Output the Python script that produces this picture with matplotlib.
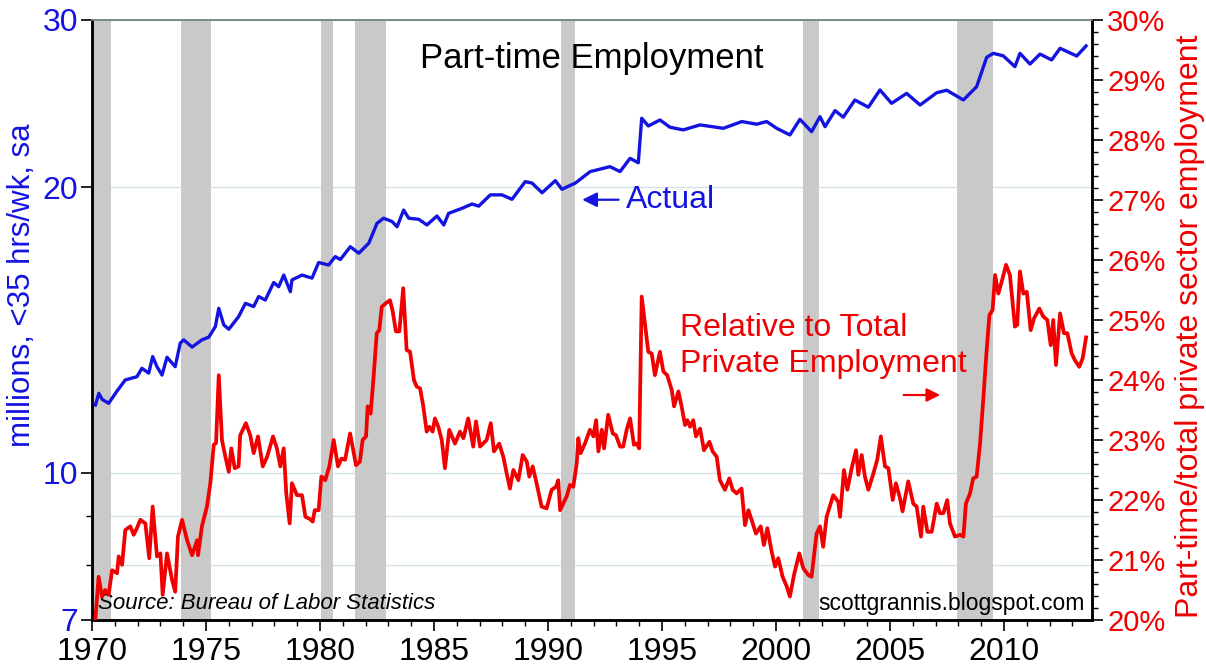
import matplotlib
matplotlib.use('Agg')
import matplotlib.pyplot as plt
from matplotlib.ticker import FixedLocator, FixedFormatter, NullFormatter, MultipleLocator

plt.rcParams['font.family'] = ['Liberation Sans', 'DejaVu Sans']

# recessions (start, end) in decimal years
recessions = [(1969.95, 1970.85), (1973.9, 1975.2), (1980.05, 1980.55),
              (1981.55, 1982.9), (1990.55, 1991.2), (2001.2, 2001.9),
              (2007.95, 2009.5)]

# part-time workers, millions (left, log scale)
blue_t = [1970.15, 1970.30, 1970.45, 1970.73, 1971.10, 1971.46, 1971.97, 1972.19, 1972.49,
          1972.66, 1972.85, 1973.07, 1973.29, 1973.65, 1973.87, 1974.02, 1974.39, 1974.82,
          1975.12, 1975.41, 1975.56, 1975.78, 1976.00, 1976.43, 1976.73, 1977.09, 1977.31,
          1977.60, 1977.97, 1978.19, 1978.41, 1978.70, 1978.77, 1979.21, 1979.65, 1979.94,
          1980.38, 1980.67, 1980.89, 1981.33, 1981.70, 1982.14, 1982.50, 1982.79, 1983.16,
          1983.38, 1983.67, 1983.89, 1984.33, 1984.69, 1985.13, 1985.43, 1985.64, 1986.23,
          1986.67, 1986.96, 1987.47, 1987.98, 1988.42, 1989.00, 1989.30, 1989.74, 1990.32,
          1990.61, 1991.20, 1991.85, 1992.72, 1993.16, 1993.60, 1993.96, 1994.11, 1994.40,
          1994.91, 1995.35, 1995.93, 1996.67, 1997.69, 1998.50, 1999.15, 1999.59, 2000.03,
          2000.61, 2001.05, 2001.56, 2001.93, 2002.15, 2002.59, 2002.95, 2003.46, 2004.05,
          2004.56, 2005.07, 2005.73, 2006.32, 2007.05, 2007.49, 2008.22, 2008.80, 2009.24,
          2009.53, 2009.97, 2010.48, 2010.70, 2011.14, 2011.58, 2012.09, 2012.46, 2013.19,
          2013.60]
blue_v = [11.79, 12.13, 11.95, 11.84, 12.20, 12.53, 12.63, 12.89, 12.74,
          13.26, 12.94, 12.68, 13.24, 12.94, 13.70, 13.81, 13.57, 13.81,
          13.90, 14.26, 14.91, 14.32, 14.17, 14.61, 15.09, 14.97, 15.34,
          15.21, 15.87, 15.71, 16.16, 15.52, 15.97, 16.16, 16.04, 16.66,
          16.56, 16.90, 16.78, 17.31, 17.04, 17.46, 18.32, 18.55, 18.40,
          18.17, 18.92, 18.55, 18.50, 18.25, 18.65, 18.25, 18.77, 19.00,
          19.20, 19.10, 19.63, 19.63, 19.42, 20.27, 20.20, 19.73, 20.32,
          19.90, 20.20, 20.77, 21.02, 20.77, 21.45, 21.22, 23.64, 23.20,
          23.54, 23.13, 22.98, 23.26, 23.07, 23.45, 23.30, 23.45, 23.07,
          22.70, 23.58, 22.88, 23.73, 23.16, 24.08, 23.70, 24.71, 24.28,
          25.32, 24.51, 25.11, 24.41, 25.15, 25.30, 24.71, 25.52, 27.40,
          27.67, 27.50, 26.79, 27.67, 26.96, 27.62, 27.23, 28.01, 27.49,
          28.17]

# part-time share of total private employment, % (right axis)
red_t = [1970.15, 1970.29, 1970.44, 1970.58, 1970.73, 1970.88, 1971.10, 1971.17, 1971.32,
         1971.46, 1971.68, 1971.83, 1971.97, 1972.12, 1972.34, 1972.51, 1972.66, 1972.85,
         1973.00, 1973.10, 1973.29, 1973.51, 1973.65, 1973.77, 1973.95, 1974.17, 1974.39,
         1974.61, 1974.65, 1974.82, 1975.04, 1975.19, 1975.34, 1975.44, 1975.56, 1975.70,
         1975.85, 1976.00, 1976.11, 1976.26, 1976.43, 1976.50, 1976.75, 1976.94, 1977.09,
         1977.28, 1977.49, 1977.68, 1977.94, 1978.11, 1978.26, 1978.41, 1978.52, 1978.67,
         1978.77, 1978.99, 1979.21, 1979.36, 1979.57, 1979.68, 1979.77, 1979.94, 1980.06,
         1980.23, 1980.41, 1980.60, 1980.79, 1980.94, 1981.10, 1981.32, 1981.58, 1981.75,
         1981.87, 1982.02, 1982.09, 1982.22, 1982.34, 1982.49, 1982.60, 1982.71, 1982.89,
         1983.07, 1983.19, 1983.33, 1983.48, 1983.65, 1983.80, 1983.95, 1984.12, 1984.24,
         1984.39, 1984.53, 1984.68, 1984.80, 1984.94, 1985.04, 1985.19, 1985.34, 1985.48,
         1985.67, 1985.92, 1986.14, 1986.29, 1986.50, 1986.72, 1986.84, 1987.02, 1987.31,
         1987.49, 1987.63, 1987.86, 1988.04, 1988.19, 1988.33, 1988.48, 1988.70, 1988.89,
         1989.07, 1989.18, 1989.33, 1989.50, 1989.72, 1989.94, 1990.16, 1990.35, 1990.45,
         1990.53, 1990.82, 1990.96, 1991.11, 1991.26, 1991.33, 1991.43, 1991.62, 1991.84,
         1991.99, 1992.11, 1992.21, 1992.36, 1992.46, 1992.64, 1992.84, 1992.98, 1993.16,
         1993.30, 1993.45, 1993.60, 1993.77, 1993.89, 1994.00, 1994.11, 1994.25, 1994.40,
         1994.55, 1994.69, 1994.91, 1995.06, 1995.23, 1995.43, 1995.53, 1995.72, 1995.86,
         1996.01, 1996.11, 1996.23, 1996.37, 1996.49, 1996.67, 1996.84, 1997.08, 1997.22,
         1997.40, 1997.54, 1997.76, 1997.95, 1998.10, 1998.27, 1998.49, 1998.64, 1998.79,
         1998.93, 1999.12, 1999.33, 1999.47, 1999.62, 1999.81, 1999.96, 2000.10, 2000.29,
         2000.47, 2000.61, 2000.79, 2001.02, 2001.20, 2001.42, 2001.56, 2001.78, 2001.93,
         2002.07, 2002.22, 2002.51, 2002.73, 2002.81, 2002.98, 2003.13, 2003.32, 2003.51,
         2003.61, 2003.76, 2003.90, 2004.05, 2004.27, 2004.44, 2004.60, 2004.78, 2004.93,
         2005.12, 2005.26, 2005.44, 2005.55, 2005.80, 2006.02, 2006.17, 2006.36, 2006.46,
         2006.64, 2006.83, 2007.05, 2007.19, 2007.34, 2007.51, 2007.63, 2007.85, 2008.07,
         2008.22, 2008.33, 2008.51, 2008.65, 2008.80, 2008.95, 2009.09, 2009.24, 2009.36,
         2009.50, 2009.61, 2009.75, 2009.90, 2010.09, 2010.26, 2010.48, 2010.58, 2010.70,
         2010.85, 2011.00, 2011.17, 2011.32, 2011.55, 2011.72, 2011.90, 2012.05, 2012.16,
         2012.28, 2012.46, 2012.63, 2012.78, 2012.97, 2013.11, 2013.30, 2013.45, 2013.60]
red_v = [20.03, 20.72, 20.39, 20.50, 20.42, 20.83, 20.78, 21.06, 20.92,
         21.50, 21.56, 21.42, 21.53, 21.67, 21.61, 21.03, 21.89, 21.06,
         21.11, 20.42, 21.11, 20.67, 20.47, 21.39, 21.67, 21.33, 21.08,
         21.33, 21.08, 21.56, 21.89, 22.28, 22.92, 22.95, 24.08, 23.00,
         22.72, 22.47, 22.86, 22.53, 22.56, 23.08, 23.28, 23.08, 22.78,
         23.06, 22.56, 22.72, 23.06, 22.86, 22.56, 22.86, 22.11, 21.61,
         22.28, 22.08, 22.08, 21.72, 21.68, 21.64, 21.83, 21.83, 22.39,
         22.33, 22.56, 23.00, 22.56, 22.69, 22.67, 23.11, 22.58, 22.64,
         23.00, 23.06, 23.56, 23.44, 24.00, 24.78, 24.83, 25.22, 25.28,
         25.33, 25.14, 24.81, 24.81, 25.53, 24.50, 24.47, 24.00, 23.89,
         23.86, 23.56, 23.14, 23.22, 23.14, 23.36, 23.22, 23.00, 22.53,
         23.17, 22.94, 23.14, 23.03, 23.36, 22.89, 23.31, 22.89, 23.00,
         23.28, 22.81, 22.94, 22.72, 22.44, 22.19, 22.50, 22.33, 22.75,
         22.64, 22.39, 22.56, 22.28, 21.89, 21.86, 22.17, 22.22, 22.33,
         21.83, 22.06, 22.25, 22.22, 22.61, 23.03, 22.78, 22.94, 23.17,
         23.06, 23.33, 22.81, 23.17, 22.86, 23.42, 23.11, 23.08, 22.89,
         22.89, 23.17, 23.36, 22.92, 22.94, 22.86, 25.39, 24.94, 24.47,
         24.44, 24.08, 24.47, 24.14, 24.08, 23.83, 23.56, 23.81, 23.56,
         23.25, 23.33, 23.22, 23.33, 23.06, 23.19, 22.83, 22.97, 22.81,
         22.72, 22.33, 22.17, 22.36, 22.17, 22.11, 22.19, 21.58, 21.83,
         21.67, 21.44, 21.56, 21.25, 21.53, 21.14, 20.89, 21.03, 20.72,
         20.56, 20.39, 20.75, 21.11, 20.86, 20.75, 20.72, 21.44, 21.56,
         21.22, 21.72, 22.08, 21.97, 21.72, 22.50, 22.17, 22.53, 22.83,
         22.42, 22.75, 22.39, 22.17, 22.44, 22.67, 23.06, 22.56, 22.53,
         22.00, 22.28, 22.03, 21.81, 22.31, 21.94, 21.89, 21.39, 21.89,
         21.47, 21.47, 21.94, 21.78, 21.78, 22.00, 21.61, 21.39, 21.42,
         21.39, 21.94, 22.11, 22.36, 22.39, 22.94, 23.67, 24.50, 25.08,
         25.17, 25.75, 25.44, 25.64, 25.92, 25.75, 24.89, 24.92, 25.81,
         25.44, 25.47, 24.83, 25.03, 25.19, 25.06, 25.00, 24.58, 25.00,
         24.25, 25.11, 24.78, 24.78, 24.44, 24.33, 24.22, 24.36, 24.71]

blue = '#1414e0'
red = '#f00000'

fig = plt.figure(figsize=(12.06, 6.72), dpi=100)
ax = fig.add_axes([92 / 1206, 52 / 672, 1000 / 1206, 600 / 672])
ax2 = ax.twinx()

for a, b in recessions:
    ax.axvspan(a, b, color='#c9c9c9', lw=0, zorder=1)

ax.plot(blue_t, blue_v, color=blue, lw=2.4, zorder=3)
ax2.plot(red_t, red_v, color=red, lw=2.7, zorder=3)

# left axis, log scale
ax.set_yscale('log')
ax.set_ylim(7, 30)
ax.yaxis.set_major_locator(FixedLocator([7, 10, 20, 30]))
ax.yaxis.set_major_formatter(FixedFormatter(['7', '10', '20', '30']))
ax.yaxis.set_minor_locator(FixedLocator([8, 9]))
ax.yaxis.set_minor_formatter(NullFormatter())
ax.set_axisbelow(True)
ax.grid(axis='y', which='both', color='#d6e2ea', lw=1.0, zorder=0)

ax.set_xlim(1970, 2013.86)
ax.xaxis.set_major_locator(MultipleLocator(5))
ax.xaxis.set_minor_locator(MultipleLocator(1))

ax2.set_ylim(20, 30)
ax2.yaxis.set_minor_locator(MultipleLocator(0.2))
ax2.set_yticks(range(20, 31))
ax2.set_yticklabels(['%d%%' % v for v in range(20, 31)])

ax.tick_params(axis='x', which='major', length=8, width=1.2, labelsize=23, pad=4, direction='out')
ax.tick_params(axis='x', which='minor', length=4, width=1, direction='out')
ax.tick_params(axis='y', which='major', length=8, width=1.2, labelsize=23, pad=2,
               labelcolor=blue, direction='out')
ax.tick_params(axis='y', which='minor', length=4, width=1, direction='out')
ax2.tick_params(axis='y', which='major', length=8, width=1.2, labelsize=21, pad=3,
                labelcolor=red, direction='out')
ax2.tick_params(axis='y', which='minor', length=4, width=1, direction='out')

for a in (ax, ax2):
    for s in ('left', 'right', 'bottom'):
        a.spines[s].set_linewidth(1.8)
        a.spines[s].set_color('black')
    a.spines['top'].set_color('#7a8a8a')
    a.spines['top'].set_linewidth(1.2)

ax.text(-0.07, 0.558, 'millions, <35 hrs/wk, sa', transform=ax.transAxes, rotation=90,
        ha='center', va='center', fontsize=22.5, color=blue)
ax.text(1.098, 0.49, 'Part-time/total private sector employment', transform=ax.transAxes,
        rotation=90, ha='center', va='center', fontsize=23, color=red)

ax.text(0.5, 0.936, 'Part-time Employment', transform=ax.transAxes, ha='center',
        va='center', fontsize=25, color='black')

ax.annotate('Actual', xy=(1991.5, 19.4), xytext=(1993.4, 19.4), ha='left', va='center',
            fontsize=23, color=blue,
            arrowprops=dict(arrowstyle='-|>', color=blue, lw=1.6, mutation_scale=22,
                            shrinkA=3, shrinkB=0), zorder=5)

ax2.text(1995.8, 24.57, 'Relative to Total\nPrivate Employment', ha='left', va='center',
         fontsize=23, color=red, linespacing=1.25)
ax2.annotate('', xy=(2007.2, 23.75), xytext=(2005.6, 23.75),
             arrowprops=dict(arrowstyle='-|>', color=red, lw=1.6, mutation_scale=20,
                             shrinkA=0, shrinkB=0))

ax.text(0.006, 0.027, 'Source: Bureau of Labor Statistics', transform=ax.transAxes,
        ha='left', va='center', fontsize=16, style='italic', color='black', zorder=6)
ax.text(0.993, 0.028, 'scottgrannis.blogspot.com', transform=ax.transAxes,
        ha='right', va='center', fontsize=16.5, color='black', zorder=6)

fig.savefig('out.png', dpi=100)
